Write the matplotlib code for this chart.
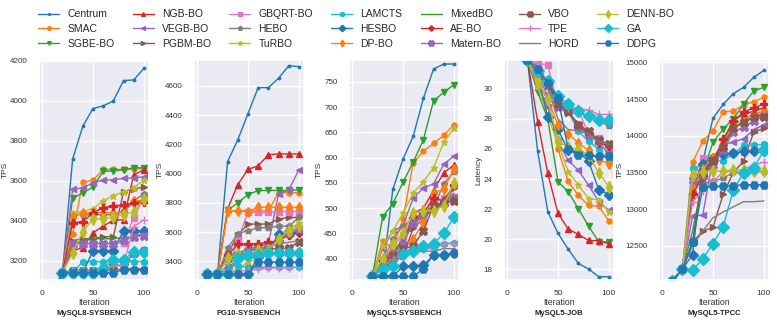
import matplotlib
matplotlib.use("Agg")
import matplotlib.pyplot as plt
from matplotlib.ticker import MultipleLocator
import seaborn as sns

# method names, in legend order
methods = ["Centrum", "SMAC", "SGBE-BO", "NGB-BO", "VEGB-BO", "PGBM-BO", "GBQRT-BO",
           "HEBO", "TuRBO", "LAMCTS", "HESBO", "DP-BO", "MixedBO", "AE-BO",
           "Matern-BO", "VBO", "TPE", "HORD", "DENN-BO", "GA", "DDPG"]

# MySQL8-SYSBENCH (TPS)
x_mysql8 = [10, 20, 30, 40, 50, 60, 70, 80, 90, 100]
mysql8 = {
    "Centrum":   [3030, 3140, 3708, 3873, 3962, 3975, 4000, 4102, 4105, 4163],
    "SMAC":      [3030, 3140, 3333, 3593, 3603, 3657, 3657, 3657, 3660, 3660],
    "SGBE-BO":   [3030, 3140, 3512, 3540, 3568, 3647, 3650, 3655, 3665, 3665],
    "NGB-BO":    [3030, 3140, 3250, 3265, 3340, 3373, 3403, 3405, 3630, 3655],
    "VEGB-BO":   [3030, 3140, 3557, 3565, 3590, 3603, 3605, 3612, 3615, 3620],
    "PGBM-BO":   [3030, 3140, 3300, 3310, 3310, 3320, 3320, 3545, 3560, 3568],
    "GBQRT-BO":  [3030, 3140, 3285, 3285, 3285, 3285, 3285, 3290, 3415, 3520],
    "HEBO":      [3030, 3140, 3430, 3430, 3430, 3430, 3430, 3450, 3500, 3535],
    "TuRBO":     [3030, 3140, 3440, 3445, 3460, 3500, 3525, 3545, 3565, 3605],
    "LAMCTS":    [3030, 3140, 3140, 3195, 3195, 3195, 3195, 3195, 3195, 3195],
    "HESBO":     [3030, 3140, 3140, 3140, 3250, 3250, 3250, 3350, 3350, 3350],
    "DP-BO":     [3030, 3140, 3420, 3440, 3440, 3440, 3440, 3440, 3500, 3500],
    "MixedBO":   [3030, 3140, 3270, 3305, 3310, 3310, 3310, 3315, 3320, 3335],
    "AE-BO":     [3030, 3140, 3390, 3395, 3440, 3465, 3475, 3478, 3490, 3495],
    "Matern-BO": [3030, 3140, 3285, 3285, 3285, 3285, 3285, 3305, 3320, 3325],
    "VBO":       [3030, 3140, 3150, 3150, 3150, 3160, 3175, 3175, 3240, 3250],
    "TPE":       [3030, 3140, 3150, 3150, 3150, 3150, 3175, 3180, 3370, 3405],
    "HORD":      [3030, 3140, 3150, 3150, 3150, 3150, 3150, 3160, 3160, 3160],
    "DENN-BO":   [3030, 3140, 3240, 3345, 3410, 3410, 3420, 3430, 3445, 3510],
    "GA":        [3030, 3140, 3140, 3140, 3140, 3160, 3205, 3205, 3245, 3245],
    "DDPG":      [3030, 3140, 3140, 3140, 3140, 3140, 3140, 3155, 3155, 3155],
}

# PG10-SYSBENCH (TPS)
x_pg10 = [0, 10, 20, 30, 40, 50, 60, 70, 80, 90, 100]
pg10 = {
    "Centrum":   [3160, 3310, 3310, 4083, 4231, 4411, 4589, 4589, 4653, 4738, 4733],
    "SMAC":      [3160, 3310, 3310, 3745, 3745, 3745, 3745, 3745, 3870, 3870, 3870],
    "SGBE-BO":   [3160, 3310, 3310, 3750, 3800, 3857, 3884, 3885, 3885, 3885, 3890],
    "NGB-BO":    [3160, 3310, 3310, 3761, 3925, 4030, 4053, 4130, 4135, 4135, 4135],
    "VEGB-BO":   [3160, 3310, 3310, 3440, 3445, 3490, 3500, 3520, 3860, 3890, 4025],
    "PGBM-BO":   [3160, 3310, 3310, 3450, 3580, 3655, 3655, 3655, 3690, 3700, 3700],
    "GBQRT-BO":  [3160, 3310, 3310, 3330, 3550, 3735, 3735, 3735, 3740, 3740, 3740],
    "HEBO":      [3160, 3310, 3310, 3490, 3590, 3610, 3630, 3630, 3640, 3640, 3700],
    "TuRBO":     [3160, 3310, 3310, 3330, 3340, 3400, 3410, 3450, 3580, 3620, 3660],
    "LAMCTS":    [3160, 3310, 3310, 3370, 3370, 3360, 3360, 3360, 3360, 3360, 3360],
    "HESBO":     [3160, 3310, 3310, 3310, 3310, 3310, 3430, 3460, 3590, 3590, 3600],
    "DP-BO":     [3160, 3310, 3310, 3745, 3745, 3740, 3770, 3770, 3770, 3770, 3770],
    "MixedBO":   [3160, 3310, 3310, 3340, 3400, 3430, 3470, 3500, 3560, 3600, 3620],
    "AE-BO":     [3160, 3310, 3310, 3440, 3520, 3520, 3520, 3530, 3540, 3580, 3600],
    "Matern-BO": [3160, 3310, 3310, 3340, 3430, 3470, 3480, 3490, 3550, 3600, 3620],
    "VBO":       [3160, 3310, 3310, 3420, 3440, 3440, 3470, 3480, 3490, 3490, 3535],
    "TPE":       [3160, 3310, 3310, 3330, 3330, 3340, 3345, 3355, 3355, 3355, 3360],
    "HORD":      [3160, 3310, 3310, 3430, 3460, 3480, 3490, 3500, 3520, 3530, 3540],
    "DENN-BO":   [3160, 3310, 3310, 3420, 3450, 3420, 3480, 3480, 3550, 3610, 3640],
    "GA":        [3160, 3310, 3310, 3310, 3420, 3440, 3440, 3460, 3460, 3460, 3460],
    "DDPG":      [3160, 3310, 3310, 3310, 3310, 3310, 3395, 3395, 3395, 3395, 3395],
}

# MySQL5-SYSBENCH (TPS)
x_mysql5 = [20, 30, 40, 50, 60, 70, 80, 90, 100]
mysql5 = {
    "Centrum":   [365, 370, 537, 597, 642, 717, 775, 785, 785],
    "SMAC":      [365, 436, 420, 479, 589, 613, 628, 644, 665],
    "SGBE-BO":   [365, 483, 509, 551, 591, 635, 712, 729, 744],
    "NGB-BO":    [365, 390, 420, 430, 490, 500, 535, 570, 585],
    "VEGB-BO":   [365, 420, 455, 465, 520, 540, 548, 587, 603],
    "PGBM-BO":   [365, 380, 395, 405, 460, 480, 500, 510, 540],
    "GBQRT-BO":  [365, 395, 425, 445, 475, 480, 510, 520, 522],
    "HEBO":      [365, 390, 440, 465, 480, 485, 500, 548, 572],
    "TuRBO":     [365, 425, 455, 490, 530, 552, 580, 630, 658],
    "LAMCTS":    [365, 400, 410, 415, 415, 420, 425, 430, 432],
    "HESBO":     [365, 365, 365, 385, 385, 387, 407, 408, 411],
    "DP-BO":     [365, 395, 415, 420, 440, 470, 530, 537, 578],
    "MixedBO":   [365, 390, 410, 440, 470, 485, 495, 510, 530],
    "AE-BO":     [365, 395, 410, 430, 480, 490, 520, 515, 545],
    "Matern-BO": [365, 385, 410, 430, 470, 490, 505, 512, 520],
    "VBO":       [365, 385, 405, 420, 425, 455, 505, 510, 515],
    "TPE":       [365, 385, 400, 410, 420, 420, 420, 430, 430],
    "HORD":      [365, 380, 400, 410, 415, 415, 415, 420, 420],
    "DENN-BO":   [365, 400, 430, 450, 490, 495, 495, 505, 550],
    "GA":        [365, 380, 385, 410, 415, 425, 430, 450, 482],
    "DDPG":      [365, 365, 365, 365, 365, 380, 408, 408, 411],
}

# MySQL5-JOB (Latency)
x_job = [20, 30, 40, 50, 60, 70, 80, 90, 100]
job = {
    "Centrum":   [31.95, 25.87, 21.82, 20.38, 19.33, 18.38, 18.0, 17.49, 17.49],
    "SMAC":      [31.95, 30.4, 29.3, 26.0, 23.84, 22.91, 22.24, 22.2, 21.2],
    "SGBE-BO":   [31.95, 29.8, 28.0, 23.82, 23.16, 22.02, 20.87, 19.82, 19.8],
    "NGB-BO":    [31.95, 27.82, 24.38, 21.71, 20.67, 20.31, 19.91, 19.9, 19.69],
    "VEGB-BO":   [31.95, 30.0, 28.8, 26.5, 25.24, 24.58, 23.6, 22.49, 21.91],
    "PGBM-BO":   [31.95, 31.0, 30.2, 29.0, 28.4, 27.7, 27.1, 26.5, 26.2],
    "GBQRT-BO":  [31.95, 31.7, 31.6, 28.8, 28.5, 28.6, 27.0, 26.7, 26.0],
    "HEBO":      [31.95, 31.2, 30.2, 29.4, 28.6, 28.4, 28.2, 27.9, 27.5],
    "TuRBO":     [31.95, 30.2, 28.2, 26.4, 24.5, 23.6, 22.7, 22.6, 21.8],
    "LAMCTS":    [31.95, 31.2, 30.5, 29.4, 28.5, 27.2, 26.5, 26.0, 25.2],
    "HESBO":     [31.95, 31.0, 28.1, 27.3, 25.9, 25.8, 25.2, 23.3, 22.95],
    "DP-BO":     [31.95, 30.6, 29.3, 27.6, 27.0, 26.4, 25.9, 25.3, 25.0],
    "MixedBO":   [31.95, 31.0, 30.0, 28.8, 28.4, 27.6, 27.0, 26.6, 26.3],
    "AE-BO":     [31.95, 31.0, 30.3, 29.2, 28.6, 27.5, 27.0, 26.4, 26.2],
    "Matern-BO": [31.95, 31.0, 29.5, 28.8, 28.5, 27.5, 26.9, 26.5, 25.6],
    "VBO":       [31.95, 31.2, 30.4, 29.0, 28.5, 27.6, 27.2, 26.6, 26.3],
    "TPE":       [31.95, 31.5, 30.5, 29.5, 28.7, 28.7, 28.6, 28.3, 28.3],
    "HORD":      [31.95, 31.5, 30.0, 28.0, 27.3, 27.2, 27.0, 26.5, 26.3],
    "DENN-BO":   [31.95, 30.5, 29.3, 26.5, 26.1, 26.0, 25.6, 24.4, 23.5],
    "GA":        [31.95, 31.2, 30.5, 29.5, 29.0, 28.5, 28.2, 27.9, 27.9],
    "DDPG":      [31.95, 31.3, 30.4, 29.4, 26.0, 25.6, 25.6, 25.5, 25.5],
}

# MySQL5-TPCC (TPS)
x_tpcc = [10, 20, 30, 40, 50, 60, 70, 80, 90, 100]
tpcc = {
    "Centrum":   [12020, 12180, 13300, 13650, 14236, 14427, 14573, 14659, 14795, 14891],
    "SMAC":      [12020, 12180, 13636, 13927, 14068, 14323, 14336, 14418, 14464, 14523],
    "SGBE-BO":   [12020, 12180, 13200, 13500, 13909, 14091, 14230, 14430, 14609, 14659],
    "NGB-BO":    [12020, 12180, 13250, 13500, 13680, 13900, 14200, 14300, 14330, 14380],
    "VEGB-BO":   [12020, 12180, 12900, 12920, 13700, 13880, 13910, 13960, 14080, 14150],
    "PGBM-BO":   [12020, 12180, 12550, 12700, 12750, 13200, 13500, 13650, 14050, 14100],
    "GBQRT-BO":  [12020, 12180, 13400, 13700, 13700, 13750, 13760, 13780, 13800, 13850],
    "HEBO":      [12020, 12180, 13300, 13350, 13380, 13420, 13500, 13500, 13500, 13510],
    "TuRBO":     [12020, 12180, 13300, 13480, 13650, 13900, 14150, 14220, 14280, 14300],
    "LAMCTS":    [12020, 12180, 13560, 13600, 13650, 13660, 13750, 13870, 13870, 13880],
    "HESBO":     [12020, 12180, 12380, 13620, 13700, 13750, 13760, 13790, 13790, 13790],
    "DP-BO":     [12020, 12180, 13300, 13550, 13700, 13850, 14100, 14200, 14300, 14330],
    "MixedBO":   [12020, 12180, 12700, 13400, 13650, 13900, 14100, 14200, 14250, 14300],
    "AE-BO":     [12020, 12180, 13200, 13450, 13650, 13950, 14200, 14320, 14380, 14430],
    "Matern-BO": [12020, 12180, 13400, 13450, 13600, 13800, 14050, 14120, 14200, 14270],
    "VBO":       [12020, 12180, 12550, 13500, 13650, 13850, 14100, 14180, 14250, 14260],
    "TPE":       [12020, 12180, 13100, 13250, 13380, 13500, 13520, 13540, 13600, 13640],
    "HORD":      [12020, 12180, 12500, 12700, 12880, 12960, 13030, 13100, 13100, 13110],
    "DENN-BO":   [12020, 12180, 13470, 13510, 13520, 13520, 13530, 13530, 13520, 13520],
    "GA":        [12020, 12180, 12170, 12320, 12530, 12760, 13260, 13490, 13560, 13800],
    "DDPG":      [12020, 12180, 12550, 13300, 13310, 13310, 13320, 13330, 13330, 13330],
}


def main():
    sns.set_theme(style="darkgrid")
    plt.rcParams['font.family'] = ['Liberation Sans', 'DejaVu Sans']

    markers = ['.', 'o', 'v', '^', '<', '>', 's', 'p', '*', 'h', 'D', 'd', '',
               'P', 'X', 'X', '+', '', 'd', 'D', 'H']
    # matplotlib's default tab10 cycle (seaborn theme would swap it)
    colors = ['#1f77b4', '#ff7f0e', '#2ca02c', '#d62728', '#9467bd',
              '#8c564b', '#e377c2', '#7f7f7f', '#bcbd22', '#17becf']

    # panel settings: x, data, ylabel, title, ylim, ytick step
    panels = [
        (x_mysql8, mysql8, "TPS", "MySQL8-SYSBENCH", (3103, 4205), 200),
        (x_pg10, pg10, "TPS", "PG10-SYSBENCH", (3272, 4778), 200),
        (x_mysql5, mysql5, "TPS", "MySQL5-SYSBENCH", (358, 793), 50),
        (x_job, job, "Latency", "MySQL5-JOB", (17.27, 31.93), 2),
        (x_tpcc, tpcc, "TPS", "MySQL5-TPCC", (12032, 15032), 500),
    ]

    fig = plt.figure(figsize=(7.77, 3.26), dpi=100)
    axes = []
    for k, (xs, data, ylab, title, ylim, step) in enumerate(panels):
        ax = fig.add_axes([(39 + 155 * k) / 777, 0.141, 110 / 777, 0.675])
        for i, m in enumerate(methods):
            ax.plot(xs, data[m], marker=markers[i], color=colors[i % 10],
                    linewidth=1, markersize=3.5 + 0.12 * i, label=m)
        ax.set_xlim(-3, 105)
        ax.set_ylim(*ylim)
        ax.xaxis.set_major_locator(MultipleLocator(50))
        ax.yaxis.set_major_locator(MultipleLocator(step))
        ax.tick_params(axis='x', labelsize=6, pad=1.5, colors='#333333')
        ax.tick_params(axis='y', labelsize=5.8, pad=2.2, colors='#333333')
        ax.set_xlabel("Iteration", fontsize=6.3, labelpad=0.5, color='#333333')
        ax.set_ylabel(ylab, fontsize=6, labelpad=0.8, color='#333333')
        ax.text(0.5, -0.15, title, transform=ax.transAxes, ha='center', va='center',
                fontsize=5.5, fontweight='bold', color='#222222')
        axes.append(ax)

    handles, labels = axes[0].get_legend_handles_labels()
    fig.legend(handles, labels, ncol=7, loc='upper left', bbox_to_anchor=(0.037, 1.0),
               frameon=False, fontsize=7.5, markerscale=0.7, labelspacing=0.45,
               columnspacing=1.75, handlelength=2, handletextpad=0.8)

    plt.savefig('out.png', dpi=100)


if __name__ == '__main__':
    main()
